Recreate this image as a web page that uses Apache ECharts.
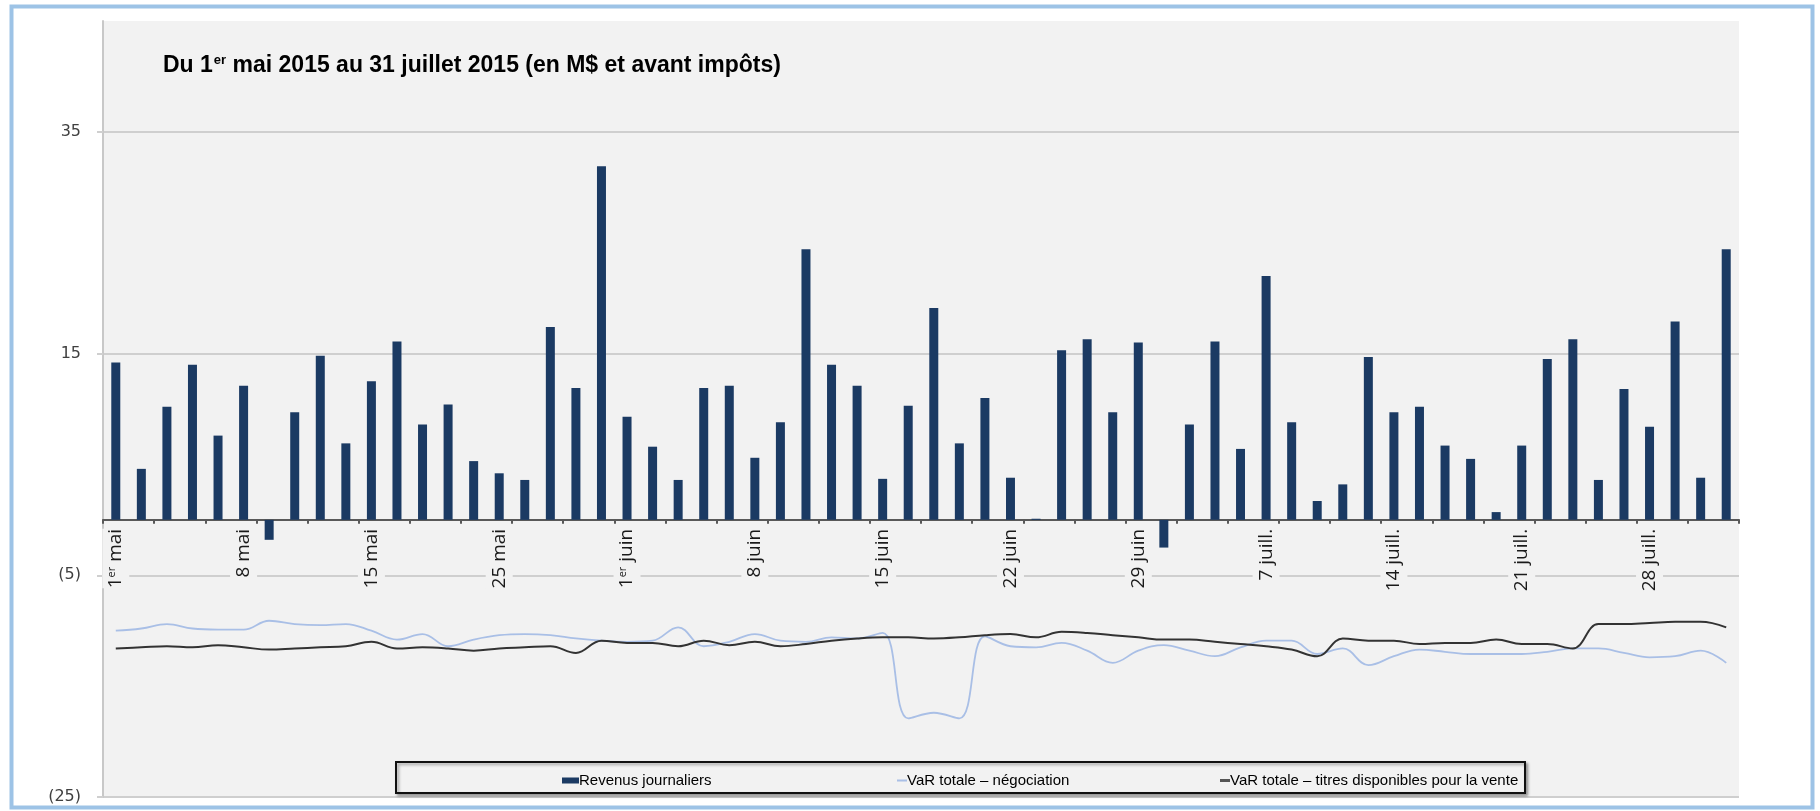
<!DOCTYPE html>
<html>
<head>
<meta charset="utf-8">
<script src="https://cdn.jsdelivr.net/npm/echarts@6/dist/echarts.min.js"></script>
<style>
html,body{margin:0;padding:0;background:#fff;}
#c{width:1820px;height:811px;}
</style>
</head>
<body>
<div id="c"></div>
<script>
const categories = [
 '1 mai','4 mai','5 mai','6 mai','7 mai','8 mai','11 mai','12 mai','13 mai','14 mai','15 mai','19 mai','20 mai','21 mai','22 mai','25 mai','26 mai','27 mai','28 mai','29 mai',
 '1 juin','2 juin','3 juin','4 juin','5 juin','8 juin','9 juin','10 juin','11 juin','12 juin','15 juin','16 juin','17 juin','18 juin','19 juin','22 juin','23 juin','24 juin','25 juin','26 juin','29 juin','30 juin',
 '2 juill.','3 juill.','6 juill.','7 juill.','8 juill.','9 juill.','10 juill.','13 juill.','14 juill.','15 juill.','16 juill.','17 juill.','20 juill.','21 juill.','22 juill.','23 juill.','24 juill.','27 juill.','28 juill.','29 juill.','30 juill.','31 juill.'
];
const revenus = [
 14.2, 4.6, 10.2, 14.0, 7.6, 12.1, -1.8, 9.7, 14.8, 6.9, 12.5, 16.1, 8.6, 10.4, 5.3, 4.2, 3.6, 17.4, 11.9, 31.9,
 9.3, 6.6, 3.6, 11.9, 12.1, 5.6, 8.8, 24.4, 14.0, 12.1, 3.7, 10.3, 19.1, 6.9, 11.0, 3.8, 0.1, 15.3, 16.3, 9.7, 16.0, -2.5,
 8.6, 16.1, 6.4, 22.0, 8.8, 1.7, 3.2, 14.7, 9.7, 10.2, 6.7, 5.5, 0.7, 6.7, 14.5, 16.3, 3.6, 11.8, 8.4, 17.9, 3.8, 24.4
];
const varNegociation = [
 -10.0, -9.8, -9.4, -9.8, -9.9, -9.9, -9.1, -9.4, -9.5, -9.4, -10.0, -10.8, -10.3, -11.4, -10.8, -10.4, -10.3, -10.4, -10.7, -10.9,
 -11.0, -10.9, -9.7, -11.4, -11.0, -10.3, -10.9, -11.0, -10.6, -10.7, -10.2, -17.9, -17.4, -17.9, -10.5, -11.4, -11.5, -11.1, -11.8, -12.9, -11.8, -11.3,
 -11.8, -12.3, -11.5, -10.9, -10.9, -12.1, -11.6, -13.1, -12.3, -11.7, -11.9, -12.1, -12.1, -12.1, -11.9, -11.6, -11.6, -12.0, -12.4, -12.3, -11.8, -12.9
];
const varTitres = [
 -11.6, -11.5, -11.4, -11.5, -11.3, -11.5, -11.7, -11.6, -11.5, -11.4, -11.0, -11.6, -11.5, -11.6, -11.8, -11.6, -11.5, -11.4, -12.0, -10.9,
 -11.1, -11.1, -11.4, -10.9, -11.3, -11.0, -11.4, -11.2, -10.9, -10.7, -10.6, -10.6, -10.7, -10.6, -10.4, -10.3, -10.6, -10.1, -10.2, -10.4, -10.6, -10.8,
 -10.8, -11.0, -11.2, -11.4, -11.7, -12.3, -10.7, -10.9, -10.9, -11.2, -11.1, -11.1, -10.8, -11.2, -11.2, -11.6, -9.4, -9.4, -9.3, -9.2, -9.2, -9.7
];
const yTicks = { min: -25, max: 45, interval: 20 };
const titleParts = ['Du 1', 'er', ' mai 2015 au 31 juillet 2015 (en M$ et avant impôts)'];
const seriesNames = ['Revenus journaliers', 'VaR totale – négociation', 'VaR totale – titres disponibles pour la vente'];

const SANS = "'Liberation Sans', Arial, sans-serif";
const GRID = {left: 103, right: 81, top: 21, bottom: 14};
const gridHeight = 811 - GRID.top - GRID.bottom;
// place the category axis on the zero value of the y scale
const zeroOffset = -((0 - yTicks.min) / (yTicks.max - yTicks.min)) * gridHeight;

const chart = echarts.init(document.getElementById('c'), null, {renderer: 'canvas'});

function xLabel(v) {
  const m = v.match(/^(\d+) (.*)$/);
  if (m[1] === '1') return '{n|1}{s|er}{n| ' + m[2] + '}';
  return '{n|' + v + '}';
}

chart.setOption({
  animation: false,
  backgroundColor: '#ffffff',
  title: {
    left: 158, top: 49,
    text: '{a|' + titleParts[0] + '}{s|' + titleParts[1] + '}{a|' + titleParts[2] + '}',
    textStyle: {
      rich: {
        a: {fontFamily: SANS, fontWeight: 'bold', fontSize: 23, color: '#000'},
        s: {fontFamily: SANS, fontWeight: 'bold', fontSize: 13, color: '#000', verticalAlign: 'top', padding: [0, 0, 0, 1]}
      }
    }
  },
  grid: Object.assign({show: true, backgroundColor: '#f2f2f2', borderWidth: 0, outerBoundsMode: 'none', containLabel: false}, GRID),
  legend: [
    {data: [{name: seriesNames[0], icon: 'rect'}], left: 557, top: 768, itemWidth: 17, itemHeight: 6, itemGap: 0,
     textStyle: {fontFamily: SANS, fontSize: 15, color: '#000', padding: [0, 0, 0, -5]}, selectedMode: false},
    {data: [{name: seriesNames[1], icon: 'rect'}], left: 892, top: 768, itemWidth: 10, itemHeight: 2, itemGap: 0,
     textStyle: {fontFamily: SANS, fontSize: 15, color: '#000', padding: [0, 0, 0, -5]}, selectedMode: false},
    {data: [{name: seriesNames[2], icon: 'rect'}], left: 1215, top: 768, itemWidth: 10, itemHeight: 3, itemGap: 0,
     textStyle: {fontFamily: SANS, fontSize: 15, color: '#000', padding: [0, 0, 0, -5]}, selectedMode: false}
  ],
  xAxis: {
    type: 'category',
    data: categories,
    boundaryGap: true,
    position: 'bottom',
    offset: zeroOffset,
    axisLine: {onZero: false, lineStyle: {color: '#595959', width: 2}},
    axisTick: {show: true, interval: 1, length: 4, lineStyle: {color: '#595959', width: 2}},
    axisLabel: {
      interval: 4, rotate: 90, margin: 9,
      formatter: xLabel,
      backgroundColor: '#f2f2f2',
      padding: [4, 0, 4, 0],
      rich: {
        n: {fontFamily: "'Open Sans', sans-serif", fontSize: 19, color: '#1a1a1a'},
        s: {fontFamily: "'Open Sans', sans-serif", fontSize: 11, color: '#1a1a1a', verticalAlign: 'top'}
      }
    },
    splitLine: {show: false}
  },
  yAxis: {
    type: 'value',
    min: yTicks.min, max: yTicks.max, interval: yTicks.interval,
    axisLine: {show: true, lineStyle: {color: '#c8c8c8', width: 2}},
    axisTick: {show: true, length: 6, lineStyle: {color: '#cfcfcf', width: 2}},
    axisLabel: {
      showMaxLabel: false, margin: 22,
      fontFamily: "'DejaVu Sans', sans-serif", fontSize: 16, color: '#404040',
      formatter: v => v < 0 ? '(' + (-v) + ')' : String(v)
    },
    splitLine: {show: true, showMaxLine: false, lineStyle: {color: '#cfcfcf', width: 2}}
  },
  graphic: [
    {type: 'rect', z: 3, shape: {x: 396, y: 762, width: 1129, height: 31},
     style: {fill: '#f2f2f2', stroke: '#111', lineWidth: 2, shadowBlur: 3, shadowOffsetX: 2, shadowOffsetY: 2, shadowColor: 'rgba(0,0,0,0.35)'}},
    {type: 'rect', z: 10, shape: {x: 11.5, y: 6.5, width: 1801, height: 801},
     style: {fill: 'none', stroke: '#9dc3e6', lineWidth: 4}}
  ],
  series: [
    {name: seriesNames[0], type: 'bar', data: revenus, barWidth: 9, color: '#1b3a63', itemStyle: {color: '#1b3a63'}},
    {name: seriesNames[1], type: 'line', data: varNegociation, smooth: 0.4, symbol: 'none', color: '#a9bfe6',
     lineStyle: {color: '#a9bfe6', width: 1.8}, itemStyle: {color: '#a9bfe6'}},
    {name: seriesNames[2], type: 'line', data: varTitres, smooth: 0.4, symbol: 'none', color: '#333333',
     lineStyle: {color: '#333333', width: 2}, itemStyle: {color: '#555555'}}
  ]
});
</script>
</body>
</html>
